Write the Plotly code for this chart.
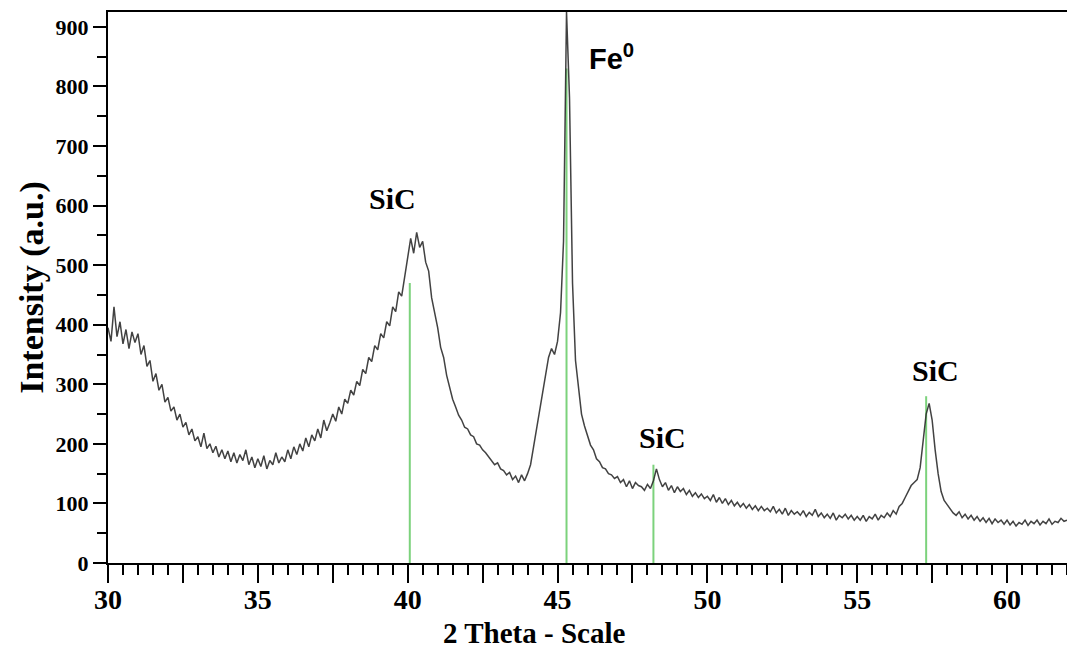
import plotly.graph_objects as go

# 2-theta grid start/step (0.1 deg) and intensities
theta_start = 30.0
theta_step = 0.1
intensity = [
    395, 372, 430, 380, 405, 368, 392, 360, 388, 370,   # 30
    385, 350, 365, 330, 340, 305, 318, 290, 300, 270,   # 31
    278, 255, 262, 240, 250, 228, 236, 215, 225, 205,   # 32
    212, 195, 218, 192, 200, 185, 196, 178, 190, 175,   # 33
    188, 170, 185, 168, 182, 172, 190, 165, 178, 160,   # 34
    175, 162, 180, 158, 172, 165, 185, 168, 178, 170,   # 35
    190, 175, 195, 182, 200, 188, 210, 195, 215, 205,   # 36
    225, 210, 240, 222, 235, 250, 238, 262, 250, 275,   # 37
    268, 290, 282, 305, 298, 325, 318, 345, 338, 365,   # 38
    358, 385, 378, 405, 398, 430, 422, 455, 448, 480,   # 39
    505, 545, 520, 555, 530, 540, 505, 490, 445, 420,   # 40
    395, 362, 345, 315, 295, 275, 262, 248, 240, 228,   # 41
    225, 215, 212, 200, 198, 190, 185, 178, 172, 165,   # 42
    168, 158, 155, 148, 152, 140, 146, 135, 148, 138,   # 43
    150, 165, 195, 225, 255, 290, 320, 345, 360, 350,   # 44
    372, 420, 540, 925, 780, 470, 340, 290, 250, 230,   # 45
    215, 198, 190, 175, 170, 160, 158, 150, 148, 142,   # 46
    145, 135, 140, 128, 138, 125, 135, 130, 128, 122,   # 47
    132, 125, 138, 158, 140, 128, 135, 122, 130, 118,   # 48
    128, 120, 125, 115, 122, 112, 118, 110, 116, 108,   # 49
    112, 105, 115, 102, 110, 100, 108, 98, 105, 96,     # 50
    102, 94, 100, 92, 98, 90, 96, 88, 95, 88,           # 51
    92, 86, 95, 84, 90, 82, 92, 80, 88, 82,             # 52
    86, 80, 88, 78, 85, 80, 90, 78, 84, 76,             # 53
    82, 75, 84, 72, 80, 76, 82, 74, 80, 72,             # 54
    78, 72, 80, 70, 78, 74, 82, 72, 80, 76,             # 55
    84, 78, 88, 82, 95, 100, 110, 120, 130, 135,        # 56
    140, 160, 200, 250, 268, 240, 190, 150, 120, 105,   # 57
    98, 90, 84, 80, 86, 76, 82, 74, 80, 72,             # 58
    78, 70, 76, 68, 75, 66, 74, 68, 72, 65,             # 59
    72, 64, 70, 62, 68, 65, 72, 63, 70, 66,             # 60
    72, 64, 70, 66, 74, 65, 70, 68, 75, 70,             # 61
    72,                                                 # 62
]
theta = [round(theta_start + i * theta_step, 2) for i in range(len(intensity))]

# reference stick pattern (green lines)
stick_pos = [40.07, 45.3, 48.2, 57.3]
stick_height = [470, 830, 165, 280]

# peak labels
label_text = ["SiC", "SiC", "SiC"]
label_x = [39.5, 48.5, 57.6]
label_y = [612, 210, 323]
fe_label_x = 46.8
fe_label_y = 850

x_tickvals = [30 + 2.5 * i for i in range(14)]
x_ticktext = [str(int(v)) if v % 5 == 0 else "" for v in x_tickvals]

fig = go.Figure()

# green sticks
sx, sy = [], []
for p, h in zip(stick_pos, stick_height):
    sx += [p, p, None]
    sy += [0, h, None]
fig.add_trace(go.Scatter(x=sx, y=sy, mode="lines",
                         line=dict(color="rgba(110,205,110,0.9)", width=2),
                         hoverinfo="skip", showlegend=False))

fig.add_trace(go.Scatter(x=theta, y=intensity, mode="lines",
                         line=dict(color="rgba(45,45,45,0.9)", width=1.5),
                         showlegend=False))

serif = "Liberation Serif"
for t, x, y in zip(label_text, label_x, label_y):
    fig.add_annotation(x=x, y=y, text=t, showarrow=False,
                       font=dict(family=serif, size=30, color="black", weight="bold"))
fig.add_annotation(x=fe_label_x, y=fe_label_y, text="Fe<sup>0</sup>", showarrow=False,
                   font=dict(family="Liberation Sans", size=29, color="black", weight="bold"))

# axis titles
fig.add_annotation(xref="paper", yref="paper", x=0.444, y=-0.127, yanchor="middle",
                   text="2 Theta - Scale", showarrow=False,
                   font=dict(family=serif, size=29, color="black", weight="bold"))
fig.add_annotation(xref="paper", yref="paper", x=-0.08, y=0.5, xanchor="center",
                   text="Intensity (a.u.)", showarrow=False, textangle=-90,
                   font=dict(family=serif, size=34, color="black", weight="bold"))

fig.update_xaxes(range=[30, 62.0], tickvals=x_tickvals, ticktext=x_ticktext,
                 ticks="outside", ticklen=18, tickwidth=1.5, tickcolor="black",
                 ticklabelstandoff=-8,
                 minor=dict(dtick=0.5, tick0=30, ticks="outside", ticklen=10,
                            tickwidth=1.5, tickcolor="black"),
                 showline=True, linecolor="black", linewidth=2, mirror=True,
                 showgrid=False, zeroline=False, automargin=False,
                 tickfont=dict(family=serif, size=28, color="black", weight="bold"))
fig.update_yaxes(range=[0, 925], dtick=100, tick0=0,
                 ticks="outside", ticklen=13, tickwidth=1.5, tickcolor="black",
                 minor=dict(dtick=50, ticks="outside", ticklen=9, tickwidth=1.5,
                            tickcolor="black"),
                 showline=True, linecolor="black", linewidth=2,
                 showgrid=False, zeroline=False, automargin=False,
                 tickfont=dict(family=serif, size=22, color="black", weight="bold"))

fig.update_layout(width=1067, height=650,
                  margin=dict(l=108, r=0, t=12, b=87),
                  plot_bgcolor="white", paper_bgcolor="white")

fig.write_html("out.html", config={"displayModeBar": False},
               post_script="document.body.style.margin='0px';")
